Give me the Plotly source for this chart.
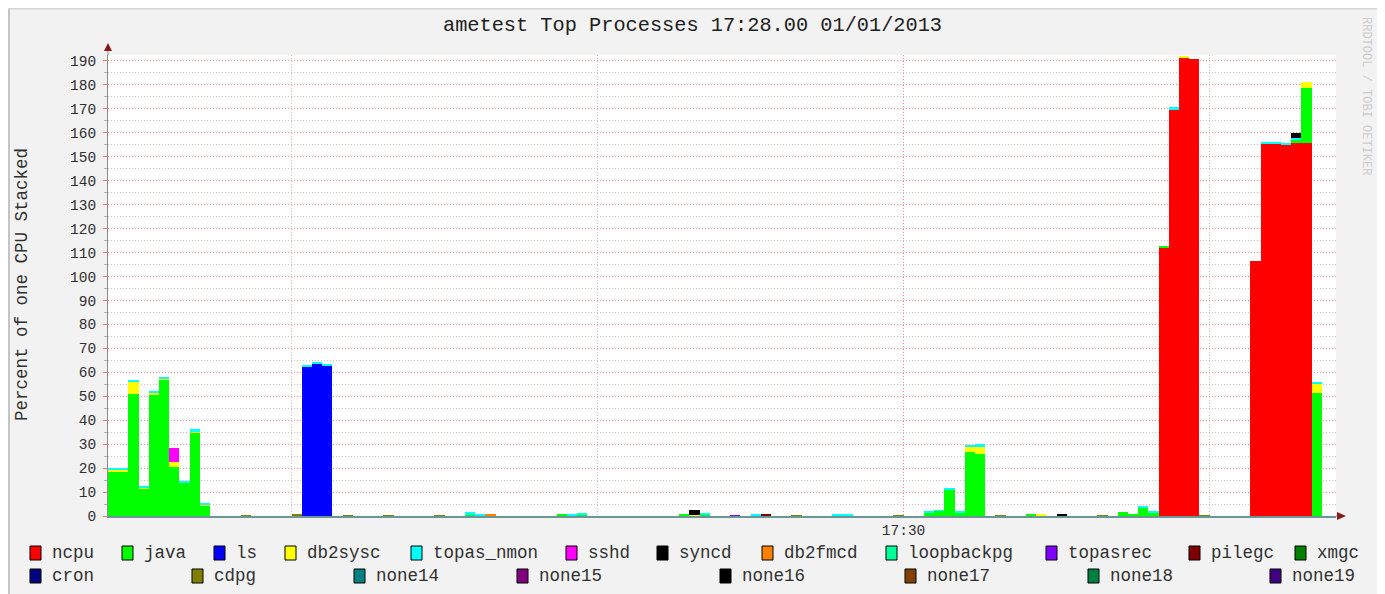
import datetime as dt
import plotly.graph_objects as go

# ---------------- data ----------------
TITLE = "ametest Top Processes 17:28.00 01/01/2013"
Y_TITLE = "Percent of one CPU Stacked"
N_SAMPLES = 119
START = dt.datetime(2013, 1, 1, 17, 27, 24)
STEP_S = 2
X_END = START + dt.timedelta(seconds=240.8)
X_TICK_VALS = [dt.datetime(2013, 1, 1, 17, 30, 0)]
X_TICK_TEXT = ["17:30"]

# values per 2-second sample index (samples not listed are 0)
NCPU = {103: 111.8, 104: 169.9, 105: 191.5, 106: 190.9,
        112: 106.6, 113: 155.6, 114: 155.4, 115: 155.3, 116: 155.6, 117: 155.6}
JAVA = {0: 18.2, 1: 18.2, 2: 50.8, 3: 11.3, 4: 50.8, 5: 56.8, 6: 20.6, 7: 13.9, 8: 34.8, 9: 4.3,
        35: 0.6, 44: 0.7, 46: 0.8, 56: 0.7, 58: 0.8,
        80: 1.3, 81: 2.1, 82: 10.9, 83: 1.3, 84: 26.6, 85: 26.0,
        90: 1.0, 99: 1.7, 100: 0.8, 101: 3.5, 102: 1.4, 103: 0.9,
        116: 1.4, 117: 23.2, 118: 51.5}
LS = {19: 62.6, 20: 63.5, 21: 62.9}
DB2SYSC = {0: 1.0, 1: 1.0, 2: 5.3, 3: 0.6, 4: 0.7, 5: 0.6, 6: 2.1, 8: 0.6, 9: 0.5,
           57: 0.5, 84: 2.6, 85: 3.2, 91: 0.8, 105: 0.7, 117: 2.5, 118: 3.9}
TOPAS_NMON = {0: 1.0, 1: 1.0, 2: 0.7, 3: 0.8, 4: 0.7, 5: 0.6, 7: 0.6, 8: 0.8, 9: 0.6,
              19: 0.6, 20: 0.8, 21: 0.6, 35: 1.0, 36: 0.7, 45: 0.7, 46: 0.6, 58: 0.6,
              63: 0.7, 71: 0.6, 72: 0.6, 80: 0.4, 81: 0.4, 82: 0.4, 83: 0.4, 84: 0.3,
              85: 0.7, 101: 0.4, 102: 0.6, 104: 0.7, 113: 0.6, 114: 0.4, 115: 0.5,
              116: 1.0, 118: 0.7}
SSHD = {6: 5.8}
SYNCD = {57: 2.0, 93: 0.9, 116: 2.0}
DB2FMCD = {37: 0.7}
LOOPBACKPG = {}
TOPASREC = {61: 0.3}
PILEGC = {64: 0.7}
XMGC = {}
CRON = {}
CDPG = {13: 0.3, 18: 0.9, 23: 0.3, 27: 0.3, 32: 0.3, 67: 0.3, 77: 0.3, 87: 0.3, 97: 0.3, 107: 0.3}
NONE14 = {}
NONE15 = {}
NONE16 = {}
NONE17 = {}
NONE18 = {}
NONE19 = {}

SERIES_NAMES = ["ncpu", "java", "ls", "db2sysc", "topas_nmon", "sshd", "syncd", "db2fmcd",
                "loopbackpg", "topasrec", "pilegc", "xmgc", "cron", "cdpg", "none14",
                "none15", "none16", "none17", "none18", "none19"]
SERIES_VALUES = [NCPU, JAVA, LS, DB2SYSC, TOPAS_NMON, SSHD, SYNCD, DB2FMCD, LOOPBACKPG,
                 TOPASREC, PILEGC, XMGC, CRON, CDPG, NONE14, NONE15, NONE16, NONE17,
                 NONE18, NONE19]
SERIES_COLORS = ["#ff0000", "#00ff00", "#0000ff", "#ffff00", "#00ffff", "#ff00ff", "#000000",
                 "#ff8000", "#00ff99", "#8000ff", "#800000", "#008000", "#000080", "#808000",
                 "#008080", "#800080", "#000000", "#804000", "#008040", "#400080"]

# legend layout (box left x in page px, row)
LEGEND_ROW = [0] * 12 + [1] * 8
LEGEND_BOX_X = [30, 122, 214, 285, 411, 566, 657, 762, 886, 1046, 1189, 1295,
                30, 192, 354, 517, 720, 905, 1088, 1270]

# ---------------- geometry (page px; the figure div sits at an 8px body offset) -------------
OFF = 8
W, H = 1372, 586            # figure size
PL, PR, PT, PB = 108, 1336, 55, 516   # plot area in page px


def px_x(p):
    return (p - PL) / (PR - PL)


def px_y(p):
    return (PB - p) / (PB - PT)


FONT = "Liberation Mono"
TXT = "#303030"
MAJOR_GRID = "#ff8a8a"
MINOR_GRID = "#c4c4c4"
DOTS = "1px,2px"

times = [START + dt.timedelta(seconds=STEP_S * i + STEP_S / 2) for i in range(N_SAMPLES)]

fig = go.Figure()
for name, color, vals in zip(SERIES_NAMES, SERIES_COLORS, SERIES_VALUES):
    if not vals:
        continue
    y = [vals.get(i, 0) for i in range(N_SAMPLES)]
    fig.add_bar(x=times, y=y, name=name, width=STEP_S * 1000,
                marker=dict(color=color, line=dict(width=0)), showlegend=False)

shapes = []
annotations = []

# page frame
shapes.append(dict(type="line", xref="paper", yref="paper", x0=px_x(9), x1=px_x(9),
                   y0=px_y(OFF + H), y1=px_y(OFF), line=dict(color="#c4c4c4", width=2)))
shapes.append(dict(type="line", xref="paper", yref="paper", x0=px_x(OFF), x1=px_x(OFF + W),
                   y0=px_y(8.7), y1=px_y(8.7), line=dict(color="#d4d4d4", width=1.5)))
shapes.append(dict(type="line", xref="paper", yref="paper", x0=px_x(OFF + W - 1.5),
                   x1=px_x(OFF + W - 1.5), y0=px_y(OFF + H), y1=px_y(OFF),
                   line=dict(color="#a8a8a8", width=3)))


# axis arrows
def path(points):
    return "M " + " L ".join(f"{px_x(a)},{px_y(b)}" for a, b in points) + " Z"


shapes.append(dict(type="line", xref="paper", yref="paper", x0=0, x1=0,
                   y0=px_y(PT), y1=px_y(48), line=dict(color="#8c8c8c", width=1)))
shapes.append(dict(type="path", xref="paper", yref="paper",
                   path=path([(104, 51), (112, 51), (108, 43)]),
                   fillcolor="#8b1a1a", line=dict(width=0)))
shapes.append(dict(type="line", xref="paper", yref="paper", x0=1, x1=px_x(1340),
                   y0=0, y1=0, line=dict(color="#8c8c8c", width=1)))
shapes.append(dict(type="path", xref="paper", yref="paper",
                   path=path([(1337, 512), (1337, 520), (1346, 516)]),
                   fillcolor="#8b1a1a", line=dict(width=0)))

# legend
ROW_Y = [553, 576]
for name, color, bx, row in zip(SERIES_NAMES, SERIES_COLORS, LEGEND_BOX_X, LEGEND_ROW):
    cy = ROW_Y[row]
    shapes.append(dict(type="rect", xref="paper", yref="paper",
                       x0=px_x(bx), x1=px_x(bx + 11), y0=px_y(cy + 7), y1=px_y(cy - 7),
                       fillcolor=color, line=dict(color="#000000", width=1)))
    annotations.append(dict(xref="paper", yref="paper", x=px_x(bx + 20), y=px_y(cy),
                            xanchor="left", yanchor="middle", showarrow=False, text=name,
                            font=dict(family=FONT, size=17.5, color=TXT)))

# title, y title, watermark
annotations.append(dict(xref="paper", yref="paper", x=px_x(692), y=px_y(25),
                        xanchor="center", yanchor="middle", showarrow=False, text=TITLE,
                        font=dict(family=FONT, size=20.3, color="#202020")))
annotations.append(dict(xref="paper", yref="paper", x=px_x(22), y=px_y(285),
                        xanchor="center", yanchor="middle", showarrow=False, text=Y_TITLE,
                        textangle=-90, font=dict(family=FONT, size=17.5, color=TXT)))
annotations.append(dict(xref="paper", yref="paper", x=px_x(1366), y=px_y(96),
                        xanchor="center", yanchor="middle", showarrow=False,
                        text="RRDTOOL / TOBI OETIKER", textangle=90,
                        font=dict(family=FONT, size=12, color="#cdcdcd")))

fig.update_layout(
    width=W, height=H, autosize=False,
    margin=dict(l=PL - OFF, r=OFF + W - PR, t=PT - OFF, b=OFF + H - PB, pad=0),
    paper_bgcolor="#f2f2f2", plot_bgcolor="#ffffff",
    barmode="stack", bargap=0, showlegend=False,
    shapes=shapes, annotations=annotations,
    xaxis=dict(type="date", range=[START, X_END], tickvals=X_TICK_VALS, ticktext=X_TICK_TEXT,
               showgrid=True, gridcolor=MAJOR_GRID, griddash=DOTS, gridwidth=1,
               showline=True, linecolor="#6a9696", linewidth=2, ticks="", zeroline=False,
               tickfont=dict(family=FONT, size=14.5, color=TXT),
               minor=dict(dtick=60000, tick0="2013-01-01 17:28:00", showgrid=True,
                          gridcolor=MINOR_GRID, griddash=DOTS, gridwidth=1)),
    yaxis=dict(range=[0, 192.5], tick0=0, dtick=10, showgrid=True, gridcolor=MAJOR_GRID,
               griddash=DOTS, gridwidth=1, showline=True, linecolor="#8c8c8c", linewidth=1,
               ticks="outside", ticklen=4, tickcolor="#ff7070", zeroline=False,
               ticklabelstandoff=4,
               tickfont=dict(family=FONT, size=14.5, color=TXT),
               minor=dict(dtick=5, showgrid=True, gridcolor=MINOR_GRID, griddash=DOTS,
                          gridwidth=1, ticks="outside", ticklen=3, tickcolor="#b0b0b0")),
)

fig.write_html("out.html")
